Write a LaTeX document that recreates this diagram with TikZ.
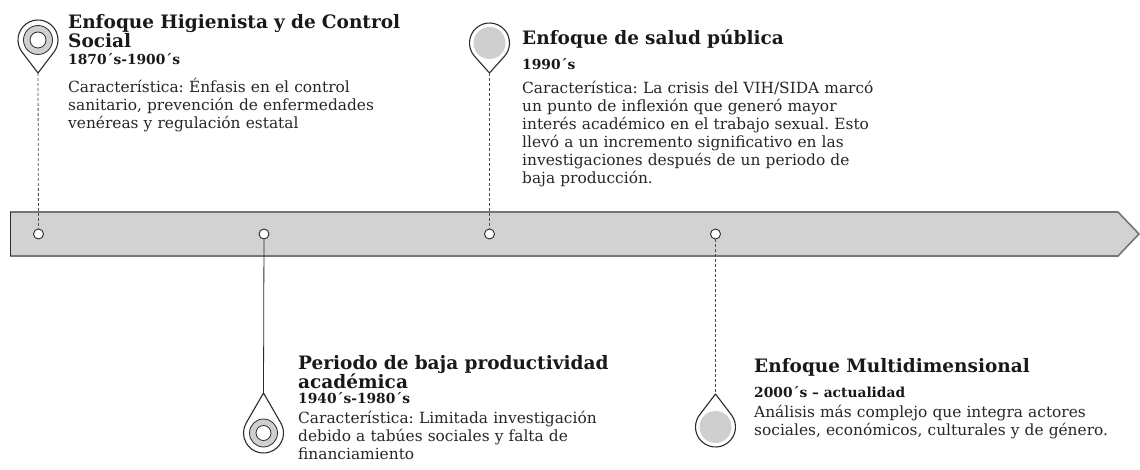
\documentclass[tikz,border=0pt]{standalone}
\usepackage{fontspec}
\setmainfont{DejaVu Serif}
\usetikzlibrary{calc}
\definecolor{barfill}{HTML}{D2D2D2}
\definecolor{barline}{HTML}{757575}
\definecolor{pinfill}{HTML}{CFCFCF}
\definecolor{inkc}{HTML}{2B2B2B}
\newcommand\drawpin[4]{%
  \pgfmathsetmacro\pinA{acos(#2/#3)}%
  \pgfmathsetmacro\pinS{#4+\pinA}%
  \pgfmathsetmacro\pinE{#4+360-\pinA}%
  \draw[pinline] ($(#1)+(#4:#3)$) -- ($(#1)+(\pinS:#2)$) arc[start angle=\pinS,end angle=\pinE,radius=#2] -- cycle;}
\tikzset{
  pinline/.style={draw=inkc,line width=1.1pt,fill=white,line join=round},
  dot/.style={circle,draw=inkc,fill=white,inner sep=0pt,minimum size=10pt,line width=0.9pt},
  dashline/.style={draw=inkc!85,line width=0.8pt,dash pattern=on 3pt off 2pt},
  solidline/.style={draw=inkc,line width=0.8pt},
  ttl/.style={anchor=base west,inner sep=0pt,text width=460pt,align=left,font=\bfseries\fontsize{18.5}{19}\selectfont,text=black!90},
  dte/.style={anchor=base west,inner sep=0pt,font=\bfseries\fontsize{13.8}{14}\selectfont,text=black!90},
  bdy/.style={anchor=base west,inner sep=0pt,text width=460pt,align=left,font=\frenchspacing\fontsize{15.4}{18}\selectfont,text=black!85},
}
\begin{document}
\begin{tikzpicture}[x=1pt,y=-1pt]
\useasboundingbox (0,0) rectangle (1140,470);
% timeline bar
\fill[barfill] (10,212) -- (1118,212) -- (1139,234) -- (1118,256) -- (10,256) -- cycle;
\draw[barline,line width=1.6pt,line join=miter] (10,212) -- (1118,212) -- (1139,234) -- (1118,256) -- (10,256);
\draw[inkc,line width=0.7pt] (10,212) -- (10,256);
% dots on bar
\node[dot] (d1) at (38.5,234) {};
\node[dot] (d2) at (264,234) {};
\node[dot] (d3) at (489.5,234) {};
\node[dot] (d4) at (715.5,234) {};
% pin coordinates
\coordinate (c1) at (38,40);   \coordinate (t1) at (38,73);
\coordinate (c3) at (489.5,43); \coordinate (t3) at (489.5,73);
\coordinate (c2) at (263.5,433); \coordinate (t2) at (263.5,393);
\coordinate (c4) at (715.5,427); \coordinate (t4) at (715.5,394);
% connectors
\draw[dashline] (t1) -- (d1);
\draw[dashline] (t3) -- (d3);
\draw[solidline] (d2) -- (t2);
\draw[dashline] (d4) -- (t4);
% pins
\drawpin{c1}{20}{33}{90}
\draw[inkc,line width=0.8pt,fill=pinfill] (c1) circle[radius=14.5];
\draw[inkc,line width=0.8pt,fill=white] (c1) circle[radius=8];
\drawpin{c3}{20}{30}{90}
\fill[pinfill] (c3) circle[radius=16];
\drawpin{c2}{20}{40}{270}
\draw[inkc,line width=0.8pt,fill=pinfill] (c2) circle[radius=14];
\draw[inkc,line width=0.8pt,fill=white] (c2) circle[radius=7.5];
\drawpin{c4}{20}{33}{270}
\fill[pinfill] (c4) circle[radius=16];
% texts pin 1
\node[ttl] (h1) at (68,29) {Enfoque Higienista y de Control\\Social};
\node[dte] (y1) at (68,65) {1870´s-1900´s};
\node[bdy] (b1) at (68,93) {Característica: Énfasis en el control\\sanitario, prevención de enfermedades\\venéreas y regulación estatal};
% texts pin 3
\node[ttl] (h3) at (522,45) {Enfoque de salud pública};
\node[dte] (y3) at (522,70) {1990´s};
\node[bdy] (b3) at (522,94) {Característica: La crisis del VIH/SIDA marcó\\un punto de inflexión que generó mayor\\interés académico en el trabajo sexual. Esto\\llevó a un incremento significativo en las\\investigaciones después de un periodo de\\baja producción.};
% texts pin 2
\node[ttl] (h2) at (298,369) {Periodo de baja productividad\\académica};
\node[dte] (y2) at (298,403) {1940´s-1980´s};
\node[bdy] (b2) at (298,423) {Característica: Limitada investigación\\debido a tabúes sociales y falta de\\financiamiento};
% texts pin 4
\node[ttl] (h4) at (754,372) {Enfoque Multidimensional};
\node[dte] (y4) at (754,397) {2000´s – actualidad};
\node[bdy] (b4) at (754,417) {Análisis más complejo que integra actores\\sociales, económicos, culturales y de género.};
\end{tikzpicture}
\end{document}
